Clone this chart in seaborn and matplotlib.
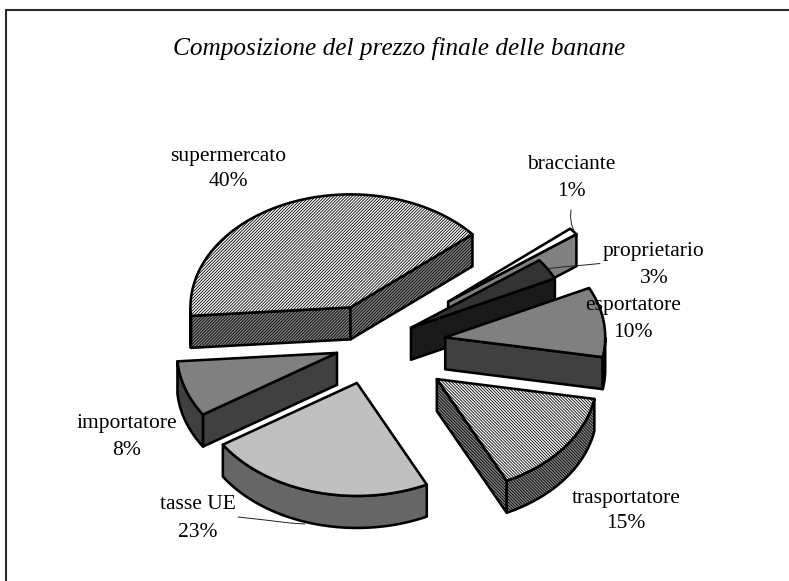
import numpy as np
import matplotlib
matplotlib.use("Agg")
import matplotlib.pyplot as plt
from matplotlib.patches import Polygon
import seaborn as sns

title = "Composizione del prezzo finale delle banane"
categories = ["bracciante", "proprietario", "esportatore", "trasportatore",
              "tasse UE", "importatore", "supermercato"]
shares = [1, 3, 10, 15, 23, 8, 40]
explode = [0.608, 0.285, 0.462, 0.508, 0.353, 0.231, 0.355]
top_colors = ["#ffffff", "#333333", "#808080", "#ffffff", "#c0c0c0", "#808080", "#ffffff"]
side_colors = ["#808080", "#1a1a1a", "#404040", "#858585", "#666666", "#404040", "#858585"]
top_hatches = [None, None, None, "\\" * 11, None, None, "/" * 11]
side_hatches = [None, None, None, "\\" * 11, None, None, "/" * 11]
draw_order = [6, 0, 1, 2, 5, 3, 4]

W, H = 789, 581
sns.set_theme(style="white")
plt.rcParams["font.family"] = ["Liberation Serif", "DejaVu Serif"]
plt.rcParams["hatch.linewidth"] = 0.6
plt.rcParams["hatch.color"] = "#1a1a1a"

fig = plt.figure(figsize=(W / 100, H / 100), dpi=100, facecolor="white")

# Pie axes: unit circle in data coordinates, squashed by the axis limits.
CX, CY, RX, RY, DEPTH = 372, 344.5, 160, 113, 32
ax = fig.add_axes([0, 0, 1, 1], zorder=1)
ax.set_xlim(-CX / RX, (W - CX) / RX)
ax.set_ylim((CY - H) / RY, CY / RY)
ax.axis("off")
d = DEPTH / RY

angle = 40.3
spans = []
for s in shares:
    a1 = angle - 360 * s / 100
    spans.append((angle, a1))
    angle = a1

z = 1
kw = dict(edgecolor="black", linewidth=1.85, joinstyle="round")
down = np.array([0, d])
for i in draw_order:
    a0, a1 = spans[i]
    mid = np.radians((a0 + a1) / 2)
    ox, oy = explode[i] * np.cos(mid), explode[i] * np.sin(mid)
    t = np.radians(np.linspace(a0, a1, 160))
    rim = np.column_stack([ox + np.cos(t), oy + np.sin(t)])
    apex = np.array([[ox, oy]])
    walls = []
    # only faces turned to the viewer are drawn
    if np.sin(np.radians(a0 + 90)) < 0:
        walls.append(np.vstack([apex, rim[:1], rim[:1] - down, apex - down]))
    if np.sin(np.radians(a1 - 90)) < 0:
        walls.append(np.vstack([apex, rim[-1:], rim[-1:] - down, apex - down]))
    front = rim[np.sin(t) < 0]
    if len(front) > 1:
        walls.append(np.vstack([front, (front - down)[::-1]]))
    for w in walls:
        ax.add_patch(Polygon(w, closed=True, facecolor=side_colors[i],
                             hatch=side_hatches[i], zorder=z, **kw))
        z += 1
    ax.add_patch(Polygon(np.vstack([apex, rim]), closed=True,
                         facecolor=top_colors[i], hatch=top_hatches[i], zorder=z, **kw))
    z += 1

# Overlay in image pixels for frame, text and leader lines.
ov = fig.add_axes([0, 0, 1, 1], zorder=2)
ov.set_xlim(0, W)
ov.set_ylim(H, 0)
ov.axis("off")
ov.patch.set_alpha(0)

ov.plot([6.5, 6.5, W], [H, 9.5, 9.5], color="#2a2a2a", lw=1.5, solid_joinstyle="miter")
ov.text(399.5, 48.5, title, ha="center", va="center", style="italic", fontsize=18.2, color="black")

label_xy = [(571, 178), (654, 265), (633, 319), (626, 510.5), (198, 518.5), (127, 437), (228, 169)]
gaps = [13.5, 13.5, 13.5, 12.5, 14, 13.5, 12.5]
for name, s, (x, y), g in zip(categories, shares, label_xy, gaps):
    ov.text(x, y - g, name, ha="center", va="center", fontsize=15.5, color="black")
    ov.text(x, y + g, f"{s}%", ha="center", va="center", fontsize=15.5, color="black")

ov.plot([571, 570.5, 571.5, 574], [210, 217, 224, 231], color="#222222", lw=0.7)
ov.plot([600, 585, 562, 549], [263.5, 265, 267, 268.5], color="#222222", lw=0.7)
ov.plot([238, 265, 290, 305], [517, 520, 523, 524], color="#222222", lw=0.7)

fig.savefig("out.png", dpi=100)
